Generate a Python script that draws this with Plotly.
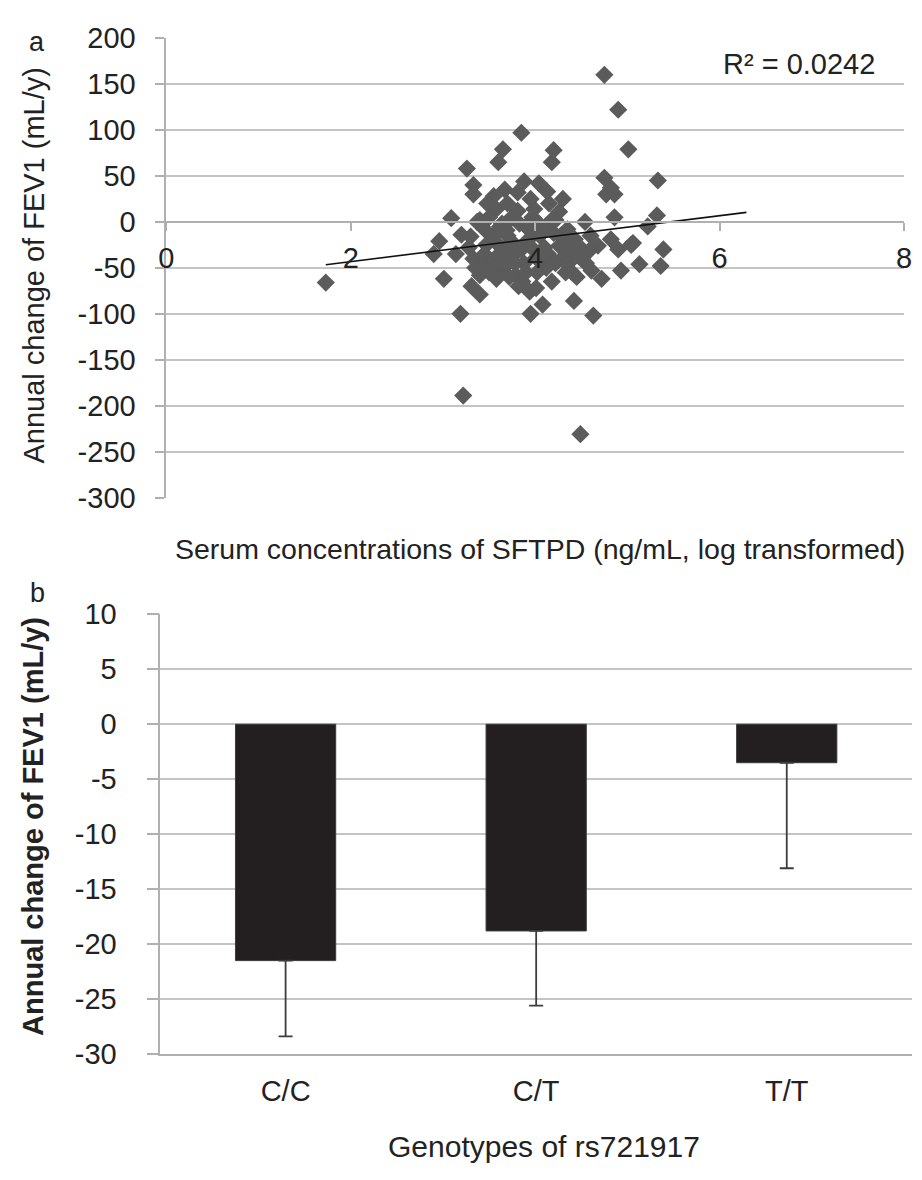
import plotly.graph_objects as go

# ---------------- data: panel a (scatter) ----------------
sftpd_log = [
    1.73, 2.90, 2.96, 3.01, 3.09, 3.14, 3.20, 3.19, 3.22, 3.26,
    3.33, 3.33, 3.33, 3.31, 3.37, 3.30, 3.40, 3.40, 3.40, 3.58,
    3.60, 3.65, 3.67, 3.62, 3.64, 3.69, 3.65, 3.72, 3.65, 3.79,
    3.81, 3.88, 3.85, 3.81, 3.83, 3.90, 3.97, 3.99, 3.86, 3.94,
    4.01, 3.95, 4.08, 4.01, 4.04, 4.13, 4.18, 4.20, 4.26, 4.22,
    4.18, 4.04, 4.26, 4.29, 4.33, 4.18, 4.43, 4.40, 4.50, 4.42,
    4.63, 4.61, 4.72, 4.68, 4.54, 4.75, 4.90, 5.01, 4.75, 4.82,
    4.77, 4.86, 4.86, 4.82, 4.90, 4.93, 5.04, 5.13, 5.22, 5.06,
    5.32, 5.33, 5.39, 5.36, 4.49, 3.47, 3.52, 3.55, 3.50, 3.58,
    3.75, 3.78, 3.85, 3.92, 4.05, 4.10, 4.12, 4.20, 4.35, 4.38,
    3.45, 3.70, 4.15, 3.55, 3.95, 4.45, 4.55, 4.58, 3.28, 3.42,
    3.35, 3.45, 3.50, 3.56, 3.60, 3.62, 3.70, 3.72, 3.75, 3.78,
    3.82, 3.88, 3.90, 3.95, 3.98, 4.02, 4.06, 4.10, 4.14, 4.22,
    4.28, 4.32, 4.36, 4.40, 4.46, 4.52, 4.60, 3.48, 3.70, 4.30,
]
fev1_change = [
    -66, -35, -21, -62, 4, -35, -14, -100, -189, 58,
    40, 30, -40, -70, 0, -16, -58, -79, 2, 14,
    65, 79, 35, -5, -2, -9, -30, -37, -51, -58,
    32, 44, 97, 12, -2, -5, 5, 14, -65, -76,
    -72, -100, -90, -39, 42, 33, 65, 78, 11, 2,
    2, -2, -26, -40, -55, -65, -19, -33, -40, -86,
    -102, -53, -62, -26, 0, 160, 122, 79, 48, 37,
    30, 30, 5, -19, -30, -53, -25, -46, -5, -23,
    7, 45, -30, -48, -231, -25, -45, -15, 5, -62,
    -22, -45, -30, -20, -15, -28, -50, -12, -8, -22,
    -8, 0, 20, 28, 25, -60, -45, -32, -28, -48,
    -50, -35, -55, -40, -25, -45, -15, -60, 5, -35,
    -70, -45, -55, -10, -30, -55, -40, -8, -35, -45,
    -15, -30, -45, -55, -25, -35, -15, 20, 20, 25,
]
trend_x = [1.73, 6.29]
trend_y = [-46.6, 10.3]
r2_label = "R² = 0.0242"
scatter_xticks = [0, 2, 4, 6, 8]
scatter_yticks = [200, 150, 100, 50, 0, -50, -100, -150, -200, -250, -300]

# ---------------- data: panel b (bars) ----------------
genotypes = ["C/C", "C/T", "T/T"]
mean_change = [-21.5, -18.8, -3.5]
err_minus = [6.9, 6.8, 9.6]
err_plus = [0, 0, 0]
bar_yticks = [10, 5, 0, -5, -10, -15, -20, -25, -30]

# ---------------- layout geometry (pixels) ----------------
W, H = 922, 1180
top_l, top_r, top_t, top_b = 161, 912, 22.7, 495
bot_l, bot_r, bot_t, bot_b = 155, 920, 615, 1067


def px(x):
    return x / W


def py(y):
    return 1 - y / H


FONT = "Liberation Sans, Arial, Helvetica, sans-serif"
TXT = "#222222"
GRID = "#c4c4c4"
AXL = "#b0b0b0"
TICK = 29

top_ydom = [py(top_b), py(top_t)]
top_yrange = [-300, 200]
x_pos = top_ydom[0] + (0 - top_yrange[0]) / (top_yrange[1] - top_yrange[0]) * (top_ydom[1] - top_ydom[0])

fig = go.Figure()

fig.add_trace(go.Scatter(
    x=sftpd_log, y=fev1_change, mode="markers",
    marker=dict(symbol="diamond", size=14, color="#5b5b5b", line=dict(width=0)),
    xaxis="x", yaxis="y", showlegend=False,
))
fig.add_trace(go.Scatter(
    x=trend_x, y=trend_y, mode="lines",
    line=dict(color="#111111", width=1.6),
    xaxis="x", yaxis="y", showlegend=False,
))

fig.add_trace(go.Bar(
    x=genotypes, y=mean_change, width=0.4,
    marker=dict(color="#231f20", line=dict(color="#3a3a3a", width=1)),
    error_y=dict(type="data", symmetric=False, array=err_plus, arrayminus=err_minus,
                 color="#3c3c3c", thickness=1.8, width=7),
    xaxis="x2", yaxis="y2", showlegend=False,
))

fig.update_layout(
    width=W, height=H,
    margin=dict(l=0, r=0, t=0, b=0),
    paper_bgcolor="white", plot_bgcolor="white",
    font=dict(family=FONT, color=TXT, size=TICK),
    xaxis=dict(
        domain=[px(top_l), px(top_r)], range=[0, 8], anchor="free", position=x_pos,
        tickvals=scatter_xticks, ticktext=[str(v) for v in scatter_xticks],
        ticks="outside", ticklen=8, tickcolor=AXL, tickwidth=1.5,
        showline=True, linecolor=AXL, linewidth=1.5, showgrid=False, zeroline=False,
        ticklabelstandoff=3, tickfont=dict(size=TICK, color=TXT),
    ),
    yaxis=dict(
        domain=top_ydom, range=top_yrange, anchor="x",
        tickvals=scatter_yticks, ticktext=[str(v) for v in scatter_yticks],
        ticks="outside", ticklen=9, tickcolor=AXL, tickwidth=1.5,
        showline=True, linecolor=AXL, linewidth=1.5,
        showgrid=True, gridcolor=GRID, gridwidth=1.5, zeroline=False,
        ticklabelstandoff=14, tickfont=dict(size=TICK, color=TXT),
    ),
    xaxis2=dict(
        domain=[px(bot_l), px(bot_r)], range=[-0.5, 2.5], anchor="y2", type="category",
        ticks="", showline=True, linecolor=AXL, linewidth=1.5, showgrid=False, zeroline=False,
        ticklabelstandoff=10, tickfont=dict(size=TICK, color=TXT),
    ),
    yaxis2=dict(
        domain=[py(bot_b), py(bot_t)], range=[-30, 10], anchor="x2",
        tickvals=bar_yticks, ticktext=[str(v) for v in bar_yticks],
        ticks="outside", ticklen=12, tickcolor=AXL, tickwidth=1.5,
        showline=True, linecolor=AXL, linewidth=1.5,
        showgrid=True, gridcolor=GRID, gridwidth=1.5, zeroline=False,
        ticklabelstandoff=24, tickfont=dict(size=TICK, color=TXT),
    ),
)

annotations = [
    dict(text="a", x=px(30), y=py(27), size=27),
    dict(text="b", x=px(30), y=py(593), size=27),
    dict(text=r2_label, x=px(805), y=py(49), size=29),
    dict(text="Serum concentrations of SFTPD (ng/mL, log transformed)", x=px(541), y=py(548), size=28.5),
    dict(text="Annual change of FEV1 (mL/y)", x=px(27), y=py(256), size=29, angle=-90),
    dict(text="<b>Annual change of FEV1 (mL/y)</b>", x=px(26), y=py(833), size=29, angle=-90),
    dict(text="Genotypes of rs721917", x=px(545), y=py(1162), size=30),
]
for a in annotations:
    fig.add_annotation(
        text=a["text"], x=a["x"], y=a["y"], xref="paper", yref="paper",
        xanchor="center", yanchor="middle", showarrow=False,
        textangle=a.get("angle", 0), font=dict(size=a["size"], color=TXT, family=FONT),
    )

fig.write_html(
    "out.html",
    config={"displayModeBar": False},
    post_script="document.body.style.margin='0';document.body.style.overflow='hidden';",
)
